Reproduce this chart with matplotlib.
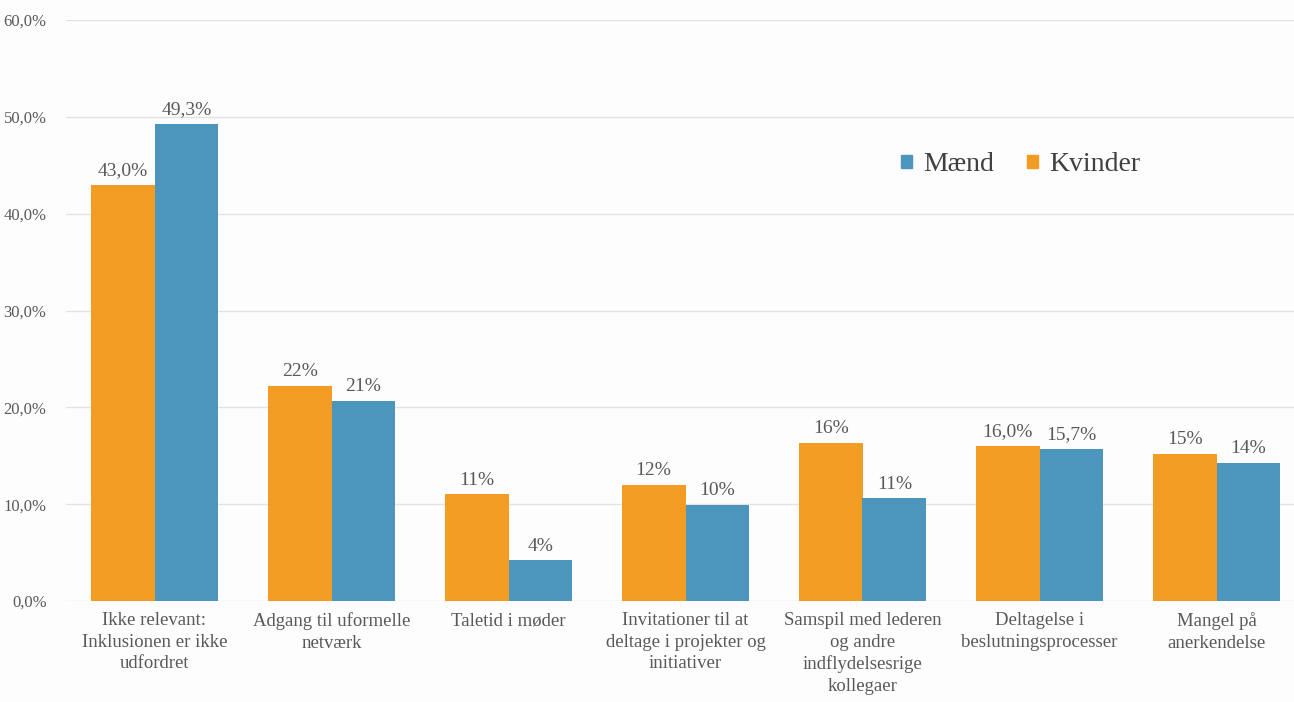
import numpy as np
import matplotlib.pyplot as plt
from matplotlib.patches import Patch

plt.rcParams['font.family'] = ['Liberation Serif', 'DejaVu Serif']

categories = ['Ikke relevant:\nInklusionen er ikke\nudfordret',
              'Adgang til uformelle\nnetværk',
              'Taletid i møder',
              'Invitationer til at\ndeltage i projekter og\ninitiativer',
              'Samspil med lederen\nog andre\nindflydelsesrige\nkollegaer',
              'Deltagelse i\nbeslutningsprocesser',
              'Mangel på\nanerkendelse']
kvinder = [0.430, 0.222, 0.110, 0.120, 0.163, 0.160, 0.152]
maend = [0.493, 0.207, 0.042, 0.099, 0.106, 0.157, 0.143]
kvinder_labels = ['43,0%', '22%', '11%', '12%', '16%', '16,0%', '15%']
maend_labels = ['49,3%', '21%', '4%', '10%', '11%', '15,7%', '14%']
yticks = [0, 0.1, 0.2, 0.3, 0.4, 0.5, 0.6]

orange = '#F39C24'
blue = '#4C95BD'
txt = '#595959'

fig = plt.figure(figsize=(12.94, 7.02), dpi=100, facecolor='#FDFDFD')
ax = fig.add_axes([66 / 1294, 101 / 702, 1228 / 1294, 581 / 702])
ax.set_facecolor('#FDFDFD')

x = np.arange(len(categories))
w = 0.36
b1 = ax.bar(x - w / 2, kvinder, w, color=orange, zorder=3)
b2 = ax.bar(x + w / 2, maend, w, color=blue, zorder=3)

for rect, lab in zip(b1, kvinder_labels):
    ax.text(rect.get_x() + rect.get_width() / 2, rect.get_height() + 0.006, lab,
            ha='center', va='bottom', fontsize=14, color=txt)
for rect, lab in zip(b2, maend_labels):
    ax.text(rect.get_x() + rect.get_width() / 2, rect.get_height() + 0.006, lab,
            ha='center', va='bottom', fontsize=14, color=txt)

ax.set_ylim(0, 0.6)
ax.set_xlim(-0.5, -0.5 + 1228 / 177)
ax.set_yticks(yticks)
ax.set_yticklabels([f'{v * 100:.1f}%'.replace('.', ',') for v in yticks])
ax.grid(axis='y', color='#E3E3E3', lw=1, zorder=0)
ax.set_xticks(x)
ax.set_xticklabels(categories, fontsize=13.5, color=txt, linespacing=1.35, va='top')
ax.tick_params(axis='y', length=0, labelsize=12, labelcolor=txt, pad=14)
ax.tick_params(axis='x', length=0, pad=8)
for s in ax.spines.values():
    s.set_visible(False)

handles = [Patch(color=blue, label='Mænd'), Patch(color=orange, label='Kvinder')]
leg = ax.legend(handles=handles, loc='upper left', bbox_to_anchor=(0.66, 0.815),
                ncol=2, frameon=False, fontsize=20, handlelength=0.38, handleheight=0.38,
                handletextpad=0.4, columnspacing=1.2)
for t in leg.get_texts():
    t.set_color('#404040')

plt.savefig('out.png', dpi=100, facecolor=fig.get_facecolor())
plt.close()
